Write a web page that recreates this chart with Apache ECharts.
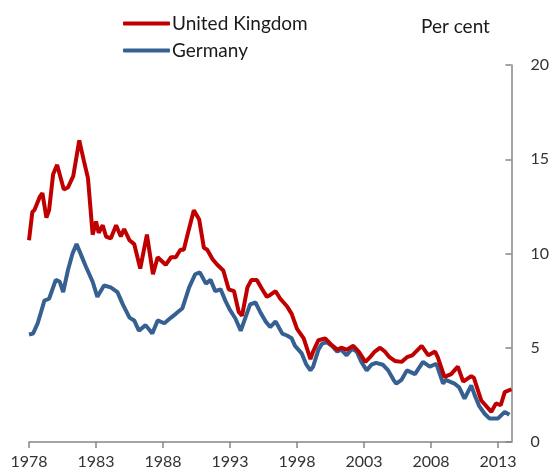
<!DOCTYPE html>
<html>
<head>
<meta charset="utf-8">
<script src="https://cdn.jsdelivr.net/npm/echarts@6/dist/echarts.min.js"></script>
<style>
  html, body { margin: 0; padding: 0; background: #fff; }
  #chart { width: 552px; height: 474px; }
</style>
</head>
<body>
<div id="chart"></div>
<script>
// [year, per cent]
const ukSeries = [
  [1978.0, 10.7], [1978.25, 12.2], [1978.4, 12.3], [1978.8, 13.0], [1979.0, 13.2], [1979.3, 11.9],
  [1979.5, 12.3], [1979.8, 14.2], [1980.1, 14.7], [1980.6, 13.4], [1980.9, 13.5], [1981.3, 14.1],
  [1981.75, 16.0], [1982.1, 14.9], [1982.4, 14.0], [1982.75, 11.0], [1983.0, 11.7], [1983.2, 11.1],
  [1983.5, 11.5], [1983.75, 10.9], [1984.1, 10.8], [1984.5, 11.5], [1984.85, 10.9], [1985.1, 11.3],
  [1985.5, 10.7], [1985.85, 10.5], [1986.3, 9.2], [1986.8, 11.0], [1987.25, 8.9], [1987.6, 9.8],
  [1988.2, 9.4], [1988.6, 9.8], [1988.95, 9.8], [1989.3, 10.2], [1989.55, 10.2], [1989.9, 11.2],
  [1990.3, 12.3], [1990.7, 11.8], [1991.05, 10.3], [1991.3, 10.2], [1991.7, 9.7], [1992.05, 9.4],
  [1992.5, 9.1], [1992.9, 8.1], [1993.3, 8.0], [1993.65, 6.9], [1993.9, 6.7], [1994.3, 8.2],
  [1994.6, 8.6], [1995.0, 8.6], [1995.4, 8.1], [1995.75, 7.7], [1996.0, 7.8], [1996.4, 8.0],
  [1996.75, 7.6], [1997.25, 7.2], [1997.6, 6.8], [1998.0, 6.0], [1998.5, 5.5], [1999.0, 4.4],
  [1999.2, 4.8], [1999.6, 5.4], [2000.1, 5.5], [2000.5, 5.2], [2001.0, 4.9], [2001.3, 5.0],
  [2001.7, 4.9], [2002.2, 5.1], [2002.6, 4.8], [2003.1, 4.25], [2003.45, 4.5], [2003.8, 4.8],
  [2004.2, 5.0], [2004.55, 4.8], [2004.9, 4.5], [2005.3, 4.3], [2005.8, 4.25], [2006.2, 4.5],
  [2006.6, 4.6], [2007.3, 5.1], [2007.8, 4.6], [2008.3, 4.8], [2008.5, 4.5], [2009.0, 3.45],
  [2009.5, 3.6], [2010.0, 4.0], [2010.4, 3.2], [2011.0, 3.5], [2011.2, 3.4], [2011.75, 2.2],
  [2012.5, 1.6], [2012.85, 2.05], [2013.2, 1.95], [2013.5, 2.65], [2014.0, 2.8]
]

const germanySeries = [
  [1978.0, 5.7], [1978.3, 5.75], [1978.65, 6.3], [1979.15, 7.5], [1979.5, 7.6], [1980.0, 8.6],
  [1980.3, 8.5], [1980.55, 7.95], [1980.9, 9.1], [1981.25, 10.0], [1981.55, 10.5], [1981.9, 9.9],
  [1982.25, 9.3], [1982.5, 8.9], [1982.75, 8.5], [1983.1, 7.7], [1983.6, 8.3], [1984.1, 8.2],
  [1984.6, 7.95], [1985.0, 7.3], [1985.5, 6.6], [1985.85, 6.45], [1986.2, 5.9], [1986.7, 6.2],
  [1987.2, 5.75], [1987.6, 6.45], [1988.1, 6.3], [1988.6, 6.6], [1988.95, 6.8], [1989.45, 7.1],
  [1989.95, 8.2], [1990.4, 8.9], [1990.75, 9.0], [1991.2, 8.4], [1991.55, 8.6], [1991.9, 8.0],
  [1992.3, 8.1], [1992.65, 7.5], [1993.0, 7.0], [1993.4, 6.55], [1993.8, 5.9], [1994.15, 6.6],
  [1994.5, 7.3], [1994.9, 7.4], [1995.25, 6.9], [1995.65, 6.4], [1996.0, 6.1], [1996.4, 6.4],
  [1996.9, 5.75], [1997.25, 5.65], [1997.6, 5.5], [1997.85, 5.1], [1998.35, 4.7], [1998.7, 4.1],
  [1999.0, 3.8], [1999.2, 4.0], [1999.6, 4.9], [1999.85, 5.2], [2000.2, 5.3], [2000.6, 5.1],
  [2001.0, 4.8], [2001.3, 4.9], [2001.7, 4.6], [2002.1, 4.95], [2002.45, 4.8], [2002.8, 4.25],
  [2003.2, 3.8], [2003.55, 4.1], [2003.9, 4.2], [2004.4, 4.1], [2004.8, 3.8], [2005.2, 3.3],
  [2005.4, 3.1], [2005.8, 3.3], [2006.2, 3.8], [2006.8, 3.6], [2007.4, 4.25], [2007.9, 4.0],
  [2008.4, 4.15], [2008.9, 3.1], [2009.1, 3.3], [2009.75, 3.1], [2010.1, 2.9], [2010.5, 2.3],
  [2011.0, 3.0], [2011.25, 2.5], [2011.6, 1.9], [2012.0, 1.5], [2012.35, 1.25], [2013.0, 1.25],
  [2013.5, 1.6], [2013.85, 1.45]
]

const yearTicks = [1978, 1983, 1988, 1993, 1998, 2003, 2008, 2013]
const seriesNames = ['United Kingdom', 'Germany']

const FONT = 'Lato, "Open Sans", sans-serif'
const AXIS_GREY = '#868686'

const chart = echarts.init(document.getElementById('chart'))

chart.setOption({
  animation: false,
  grid: { left: 29, right: 39, top: 65, bottom: 32 },
  legend: {
    orient: 'vertical',
    left: 118,
    top: 9,
    icon: 'roundRect',
    itemWidth: 47,
    itemHeight: 4,
    itemGap: 8,
    textStyle: { fontSize: 19, color: '#1a1a1a', fontFamily: FONT, padding: [0, 0, 0, -3] },
    data: seriesNames,
  },
  graphic: [
    {
      type: 'text',
      left: 421,
      top: 17,
      style: { text: 'Per cent', fontSize: 19, fill: '#1a1a1a', fontFamily: FONT },
    },
  ],
  xAxis: {
    type: 'value',
    min: 1978,
    max: 2014,
    interval: 5,
    splitLine: { show: false },
    axisLine: { show: true, lineStyle: { color: AXIS_GREY, width: 1.5 } },
    axisTick: { show: true, length: 6, customValues: yearTicks, lineStyle: { color: AXIS_GREY, width: 1.5 } },
    axisLabel: {
      customValues: yearTicks,
      formatter: v => String(v),
      fontSize: 16,
      color: '#333',
      fontFamily: FONT,
      margin: 12,
    },
  },
  yAxis: {
    type: 'value',
    position: 'right',
    min: 0,
    max: 20,
    interval: 5,
    splitLine: { show: false },
    axisLine: { show: true, lineStyle: { color: AXIS_GREY, width: 1.5 } },
    axisTick: { show: true, inside: true, length: 6, lineStyle: { color: AXIS_GREY, width: 1.5 } },
    axisLabel: { fontSize: 16, color: '#333', fontFamily: FONT, margin: 19 },
  },
  series: [
    {
      name: seriesNames[0],
      type: 'line',
      data: ukSeries,
      symbol: 'none',
      lineStyle: { color: '#C00000', width: 4 },
      itemStyle: { color: '#C00000' },
      z: 3,
    },
    {
      name: seriesNames[1],
      type: 'line',
      data: germanySeries,
      symbol: 'none',
      lineStyle: { color: '#376092', width: 4 },
      itemStyle: { color: '#376092' },
      z: 2,
    },
  ],
})
</script>
</body>
</html>
